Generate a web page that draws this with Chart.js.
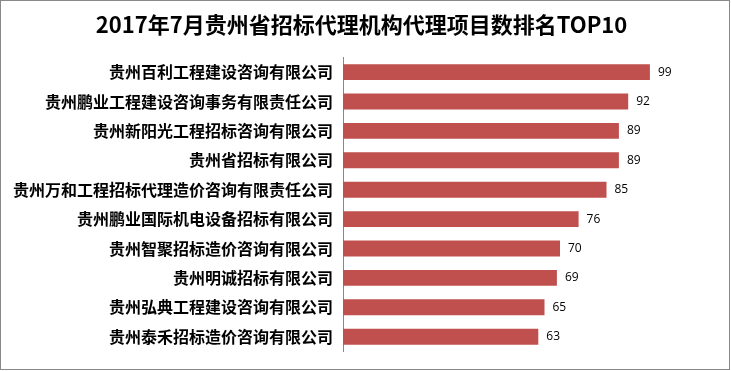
<!DOCTYPE html>
<html>
<head>
<meta charset="utf-8">
<script src="https://cdn.jsdelivr.net/npm/chart.js@4/dist/chart.umd.min.js"></script>
<style>
  body { margin: 0; background: #fff; }
  #wrap { width: 731px; height: 371px; position: relative; }
</style>
</head>
<body>
<div id="wrap"><canvas id="barChart"></canvas></div>
<script>
"use strict";

const titleText = "2017年7月贵州省招标代理机构代理项目数排名TOP10";

const companies = [
  "贵州百利工程建设咨询有限公司",
  "贵州鹏业工程建设咨询事务有限责任公司",
  "贵州新阳光工程招标咨询有限公司",
  "贵州省招标有限公司",
  "贵州万和工程招标代理造价咨询有限责任公司",
  "贵州鹏业国际机电设备招标有限公司",
  "贵州智聚招标造价咨询有限公司",
  "贵州明诚招标有限公司",
  "贵州弘典工程建设咨询有限公司",
  "贵州泰禾招标造价咨询有限公司"
];

const projectCounts = [99, 92, 89, 89, 85, 76, 70, 69, 65, 63];

const xMin = 0;
const xMax = 120;

// 外框 + 数值标签
const framePlugin = {
  id: "frame",
  beforeDraw(chart) {
    const ctx = chart.ctx;
    ctx.save();
    ctx.fillStyle = "#fff";
    ctx.fillRect(0, 0, chart.width, chart.height);
    ctx.strokeStyle = "#888";
    ctx.lineWidth = 1;
    ctx.strokeRect(0.5, 0.5, chart.width - 2, chart.height - 2);
    ctx.restore();
  },
  afterDatasetsDraw(chart) {
    const ctx = chart.ctx;
    const meta = chart.getDatasetMeta(0);
    ctx.save();
    ctx.font = "12px 'Open Sans', 'DejaVu Sans', sans-serif";
    ctx.fillStyle = "#000";
    ctx.textAlign = "left";
    ctx.textBaseline = "middle";
    meta.data.forEach((bar, i) => {
      ctx.fillText(String(projectCounts[i]), bar.x + 8, bar.y);
    });
    ctx.restore();
  }
};

function createChart() {
  const ctx = document.getElementById("barChart");

  new Chart(ctx, {
    type: "bar",
    data: {
      labels: companies,
      datasets: [{
        data: projectCounts,
        backgroundColor: "#C0504D",
        categoryPercentage: 1,
        barPercentage: 0.54
      }]
    },
    options: {
      indexAxis: "y",
      responsive: true,
      maintainAspectRatio: false,
      animation: false,
      layout: {
        padding: { left: 8, right: 16, top: 0, bottom: 17 }
      },
      plugins: {
        legend: { display: false },
        tooltip: { enabled: false },
        title: {
          display: true,
          text: titleText,
          color: "#000",
          font: { family: "'Noto Sans CJK SC', sans-serif", size: 22, weight: "bold", lineHeight: 1.2 },
          padding: { top: 11, bottom: 20 }
        }
      },
      scales: {
        x: {
          display: false,
          min: xMin,
          max: xMax
        },
        y: {
          grid: { display: false, drawTicks: false },
          border: { display: true, color: "#888", width: 1 },
          ticks: {
            color: "#000",
            padding: 10,
            autoSkip: false,
            font: { family: "'Noto Sans CJK SC', sans-serif", size: 16, weight: "bold" }
          },
          afterFit(scale) {
            scale.width = 335;
          }
        }
      }
    },
    plugins: [framePlugin]
  });
}

createChart();
</script>
</body>
</html>
